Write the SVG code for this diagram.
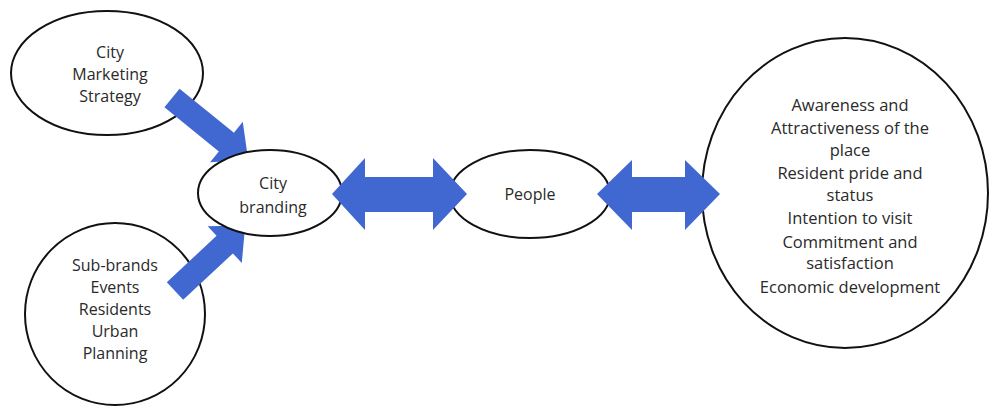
<svg xmlns="http://www.w3.org/2000/svg" width="990" height="408" viewBox="0 0 990 408">
<style>
.node{fill:#fff;stroke:#111;stroke-width:2}
.arr{fill:#4068D0}
text{font-family:"Open Sans","Liberation Sans",sans-serif;font-size:16px;fill:#2a2a2a;text-anchor:middle}
.big{font-size:16.5px}
</style>
<rect width="990" height="408" fill="#fff"/>
<g id="n-marketing"><ellipse class="node" cx="107" cy="73" rx="96" ry="62"/>
<text x="110" y="58">City</text><text x="110" y="80">Marketing</text><text x="110" y="102">Strategy</text></g>
<g id="n-subbrands"><ellipse class="node" cx="115" cy="314" rx="90" ry="91"/>
<text x="115" y="271">Sub-brands</text><text x="115" y="293">Events</text><text x="115" y="315">Residents</text><text x="115" y="337">Urban</text><text x="115" y="359">Planning</text></g>
<g id="connectors-diag">
<path class="arr" transform="translate(172,98) rotate(39)" d="M0,-12 L70,-12 L70,-26 L98,0 L70,26 L70,12 L0,12 Z"/>
<path class="arr" transform="translate(175,291) rotate(-43)" d="M0,-12 L68,-12 L68,-25 L96,0 L68,25 L68,12 L0,12 Z"/>
</g>
<g id="n-branding"><ellipse class="node" cx="270" cy="193" rx="72" ry="43"/>
<text x="273" y="189">City</text><text x="273" y="213">branding</text></g>
<g id="n-people"><ellipse class="node" cx="530" cy="194" rx="80" ry="44"/>
<text x="530" y="200">People</text></g>
<g id="n-outcomes"><ellipse class="node" cx="845" cy="193" rx="143" ry="155"/>
<text class="big" x="850" y="111">Awareness and</text><text class="big" x="850" y="134">Attractiveness of the</text><text class="big" x="850" y="156">place</text><text class="big" x="850" y="179">Resident pride and</text><text class="big" x="850" y="201">status</text><text class="big" x="850" y="224">Intention to visit</text><text class="big" x="850" y="248">Commitment and</text><text class="big" x="850" y="269">satisfaction</text><text class="big" x="850" y="293">Economic development</text></g>
<g id="connectors">
<path class="arr" d="M332,194 L365,158 L365,177 L433,177 L433,158 L467,194 L433,230 L433,212 L365,212 L365,230 Z"/>
<path class="arr" d="M597,194 L632,160 L632,177 L685,177 L685,160 L720,194 L685,230 L685,212 L632,212 L632,230 Z"/>
</g>
</svg>
